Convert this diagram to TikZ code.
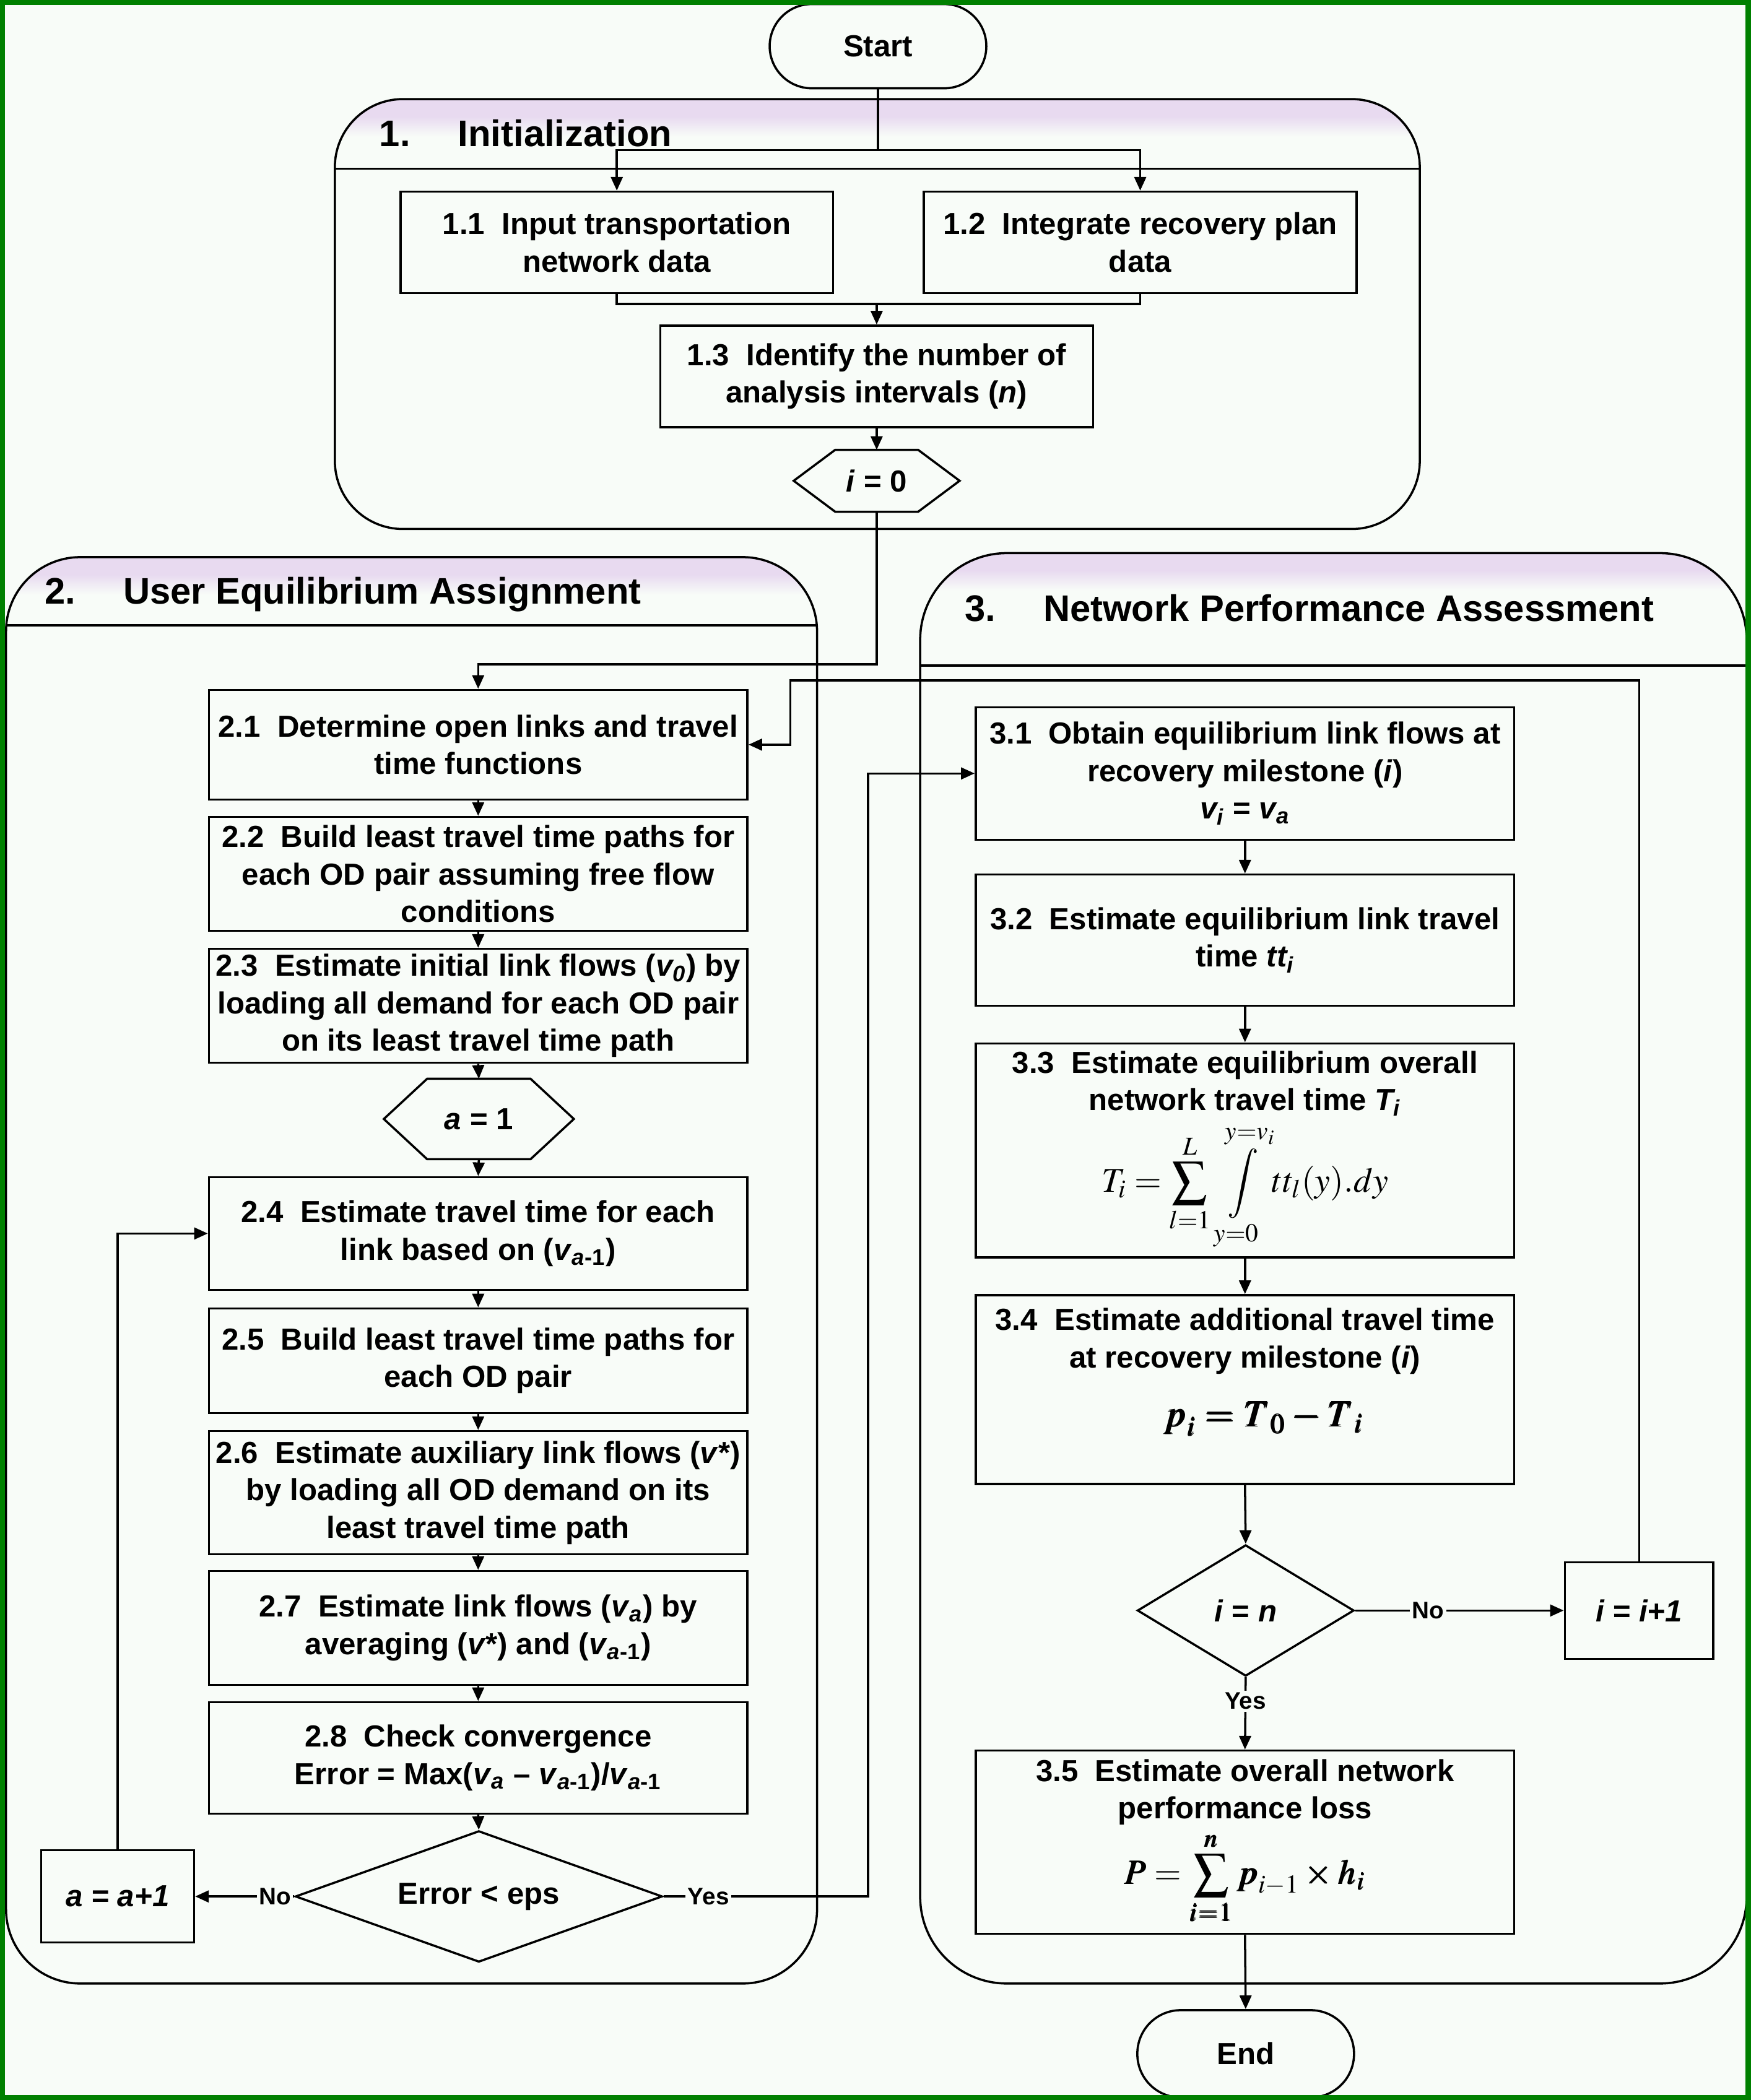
\documentclass[tikz,border=0pt]{standalone}
\usepackage{mathptmx}
\usepackage{bm}
\usepackage[no-math]{fontspec}
\setmainfont{Liberation Sans}
\usetikzlibrary{shapes.geometric, arrows.meta, positioning, calc}

\definecolor{bg}{RGB}{248,252,248}
\definecolor{hdr}{RGB}{232,218,240}
\definecolor{framegreen}{RGB}{0,128,0}

\newcommand{\boxfont}{\fontsize{14}{17.2}\selectfont\bfseries}
\newcommand{\headfont}{\fontsize{17}{20}\selectfont\bfseries}
\newcommand{\eqfont}{\fontsize{16}{19}\selectfont}

\begin{document}
\begin{tikzpicture}[x=0.02163cm, y=-0.02163cm,
    stepbox/.style={rectangle, draw, line width=1pt, fill=bg, minimum width=8.70cm, align=center, font=\boxfont, inner sep=1pt},
    initbox/.style={stepbox, minimum width=6.99cm, minimum height=1.64cm},
    termbox/.style={rectangle, draw, line width=1pt, fill=bg, minimum width=3.5cm, font=\boxfont},
    hexnode/.style={inner sep=0pt, outer sep=0pt, font=\boxfont},
    decision/.style={diamond, draw, line width=1pt, fill=bg, inner sep=0pt, font=\boxfont},
    counter/.style={rectangle, draw, line width=1pt, fill=bg, font=\boxfont},
    section/.style={draw, line width=1pt},
    arr/.style={-{Triangle[length=2.2mm,width=1.9mm]}, line width=1pt},
    lbl/.style={fill=bg, inner sep=1pt, font=\fontsize{11}{13}\selectfont\bfseries}
]
    \fill[bg] (0,0) rectangle (1307,1568);
    \useasboundingbox (0,0) rectangle (1307,1568);

    % the three phases
    \foreach \xa/\ya/\xb/\yb/\yh/\r in {250/74/1060/395/126/1.1cm, 4.5/416/610/1481/467/1.2cm, 687/413/1304/1481/497/1.4cm} {
        \begin{scope}
            \clip[rounded corners=\r] (\xa,\ya) rectangle (\xb,\yb);
            \fill[hdr] (\xa,\ya) rectangle (\xb,\ya+13);
            \shade[top color=hdr, bottom color=bg] (\xa,\ya+13) rectangle (\xb,\ya+28);
        \end{scope}
        \draw[section, rounded corners=\r] (\xa,\ya) rectangle (\xb,\yb);
        \draw[section] (\xa,\yh) -- (\xb,\yh);
    }
    \node[anchor=base west, inner sep=0pt, font=\headfont] (h1) at (283,109.5) {\makebox[1.27cm][l]{1.}Initialization};
    \node[anchor=base west, inner sep=0pt, font=\headfont] (h2) at (33,451) {\makebox[1.27cm][l]{2.}User Equilibrium Assignment};
    \node[anchor=base west, inner sep=0pt, font=\headfont] (h3) at (720,464) {\makebox[1.27cm][l]{3.}Network Performance Assessment};

    % 1. initialization
    \node[termbox, rounded corners=0.68cm, minimum height=1.36cm] (start) at (655.5,34.5) {Start};
    \node[initbox] (in11) at (460.5,181) {1.1~~Input transportation\\network data};
    \node[initbox, right=1.43cm of in11] (in12) {1.2~~Integrate recovery plan\\data};
    \node[initbox] (id13) at (654.5,281) {1.3~~Identify the number of\\analysis intervals (\textit{n})};
    \node[hexnode, minimum width=2.68cm, minimum height=1.0cm, below=0.35cm of id13] (i0) {\textit{i} = 0};

    % 2. user equilibrium
    \node[stepbox, minimum height=1.77cm] (b21) at (357,556) {2.1~~Determine open links and travel\\time functions};
    \node[stepbox, minimum height=1.84cm] (b22) at (357,652.5) {2.2~~Build least travel time paths for\\each OD pair assuming free flow\\conditions};
    \node[stepbox, minimum height=1.84cm] (b23) at (357,751) {2.3~~Estimate initial link flows (\textit{v\textsubscript{0}}) by\\loading all demand for each OD pair\\on its least travel time path};
    \node[hexnode, minimum width=3.07cm, minimum height=1.30cm] (a1) at (357.5,835.5) {\textit{a} = 1};
    \node[stepbox, minimum height=1.82cm] (b24) at (357,921) {2.4~~Estimate travel time for each\\link based on (\textit{v}\textsubscript{\textit{a}-1})};
    \node[stepbox, minimum height=1.69cm] (b25) at (357,1016) {2.5~~Build least travel time paths for\\each OD pair};
    \node[stepbox, minimum height=1.99cm] (b26) at (357,1114.5) {2.6~~Estimate auxiliary link flows (\textit{v*})\\by loading all OD demand on its\\least travel time path};
    \node[stepbox, minimum height=1.84cm] (b27) at (357,1215.5) {2.7~~Estimate link flows (\textit{v}\textsubscript{\textit{a}}) by\\averaging (\textit{v*}) and (\textit{v}\textsubscript{\textit{a}-1})};
    \node[stepbox, minimum height=1.80cm] (b28) at (357,1312.5) {2.8~~Check convergence\\Error = Max(\textit{v}\textsubscript{\textit{a}} – \textit{v}\textsubscript{\textit{a}-1})/\textit{v}\textsubscript{\textit{a}-1}};
    \node[decision, aspect=2.8, minimum width=5.93cm, minimum height=2.12cm] (err) at (357.5,1416) {Error < eps};
    \node[counter, minimum width=2.47cm, minimum height=1.49cm, left=1.60cm of err] (aa) {\textit{a = a+1}};

    % 3. network performance
    \node[stepbox, minimum height=2.14cm] (b31) at (929.5,577.5) {3.1~~Obtain equilibrium link flows at\\recovery milestone (\textit{i})\\\textit{v\textsubscript{i}} = \textit{v\textsubscript{a}}};
    \node[stepbox, minimum height=2.12cm] (b32) at (929.5,702) {3.2~~Estimate equilibrium link travel\\time \textit{tt\textsubscript{i}}};
    \node[stepbox, minimum height=3.46cm] (b33) at (929.5,859) {3.3~~Estimate equilibrium overall\\network travel time \textit{T\textsubscript{i}}\\[3pt]
        {\eqfont $\displaystyle T_i=\sum_{l=1}^{L}\,\int\limits_{y=0}^{y=v_i} tt_l(y).dy$}};
    \node[stepbox, minimum height=3.05cm] (b34) at (929.5,1037.5) {3.4~~Estimate additional travel time\\at recovery milestone (\textit{i})\\[10pt]
        {\fontsize{17}{20}\selectfont\hspace{0.6cm}$\bm{p_i = T_0 - T_i}$}\\[3pt]\mbox{}};
    \node[decision, aspect=1.65, minimum width=3.50cm, minimum height=2.12cm] (in) at (930,1202.5) {\textit{i} = \textit{n}};
    \node[counter, minimum width=2.40cm, minimum height=1.56cm, right=3.37cm of in] (inc) {\textit{i = i+1}};
    \node[stepbox, minimum height=2.96cm] (b35) at (929.5,1375.5) {3.5~~Estimate overall network\\performance loss\\[2pt]
        {\eqfont $\displaystyle \bm{P} = \sum_{\bm{i=1}}^{\bm{n}} \bm{p_{i-1}\times h_i}$}};
    \node[termbox, rounded corners=0.70cm, minimum height=1.41cm] (end) at (930,1533.5) {End};

    % connectors
    \coordinate (split) at (655.5,112);
    \draw[line width=1pt] (start.south) -- (split);
    \draw[arr] (split) -| (in11.north);
    \draw[arr] (split) -| (in12.north);
    \coordinate (merge) at (654.5,227);
    \draw[line width=1pt] (in11.south) |- (merge) -| (in12.south);
    \draw[arr] (merge) -- (id13.north);
    \draw[arr] (id13.south) -- (i0.north);
    \coordinate (drop) at (357,496);
    \draw[arr] (i0.south) |- (drop) -- (b21.north);

    \foreach \a/\b in {b21/b22, b22/b23, b23/a1, a1/b24, b24/b25, b25/b26, b26/b27, b27/b28, b28/err}
        \draw[arr] (\a.south) -- (\b.north);
    \foreach \a/\b in {b31/b32, b32/b33, b33/b34, b34/in, b35/end}
        \draw[arr] (\a.south) -- (\b.north);

    \draw[arr] (err.west) -- node[lbl, pos=0, anchor=east] {No} (aa.east);
    \draw[arr] (aa.north) |- (b24.west);
    \coordinate (yesup) at (648,1416);
    \draw[arr] (err.east) -- node[lbl, pos=0.22] {Yes} (yesup) |- (b31.west);

    \draw[arr] (in.east) -- node[lbl, pos=0.35] {No} (inc.west);
    \draw[arr] (in.south) -- node[lbl, pos=0.33] {Yes} (b35.north);
    \coordinate (back) at (590,508);
    \draw[arr] (inc.north) |- (back) |- (b21.east);

    % hexagon outlines
    \foreach \h/\d in {i0/0.67cm, a1/0.70cm}
        \draw[line width=1pt] (\h.west) -- ([xshift=\d]\h.north west) -- ([xshift=-\d]\h.north east)
            -- (\h.east) -- ([xshift=-\d]\h.south east) -- ([xshift=\d]\h.south west) -- cycle;

    \draw[framegreen, line width=0.17cm] (0,0) rectangle (1307,1568);
\end{tikzpicture}
\end{document}
